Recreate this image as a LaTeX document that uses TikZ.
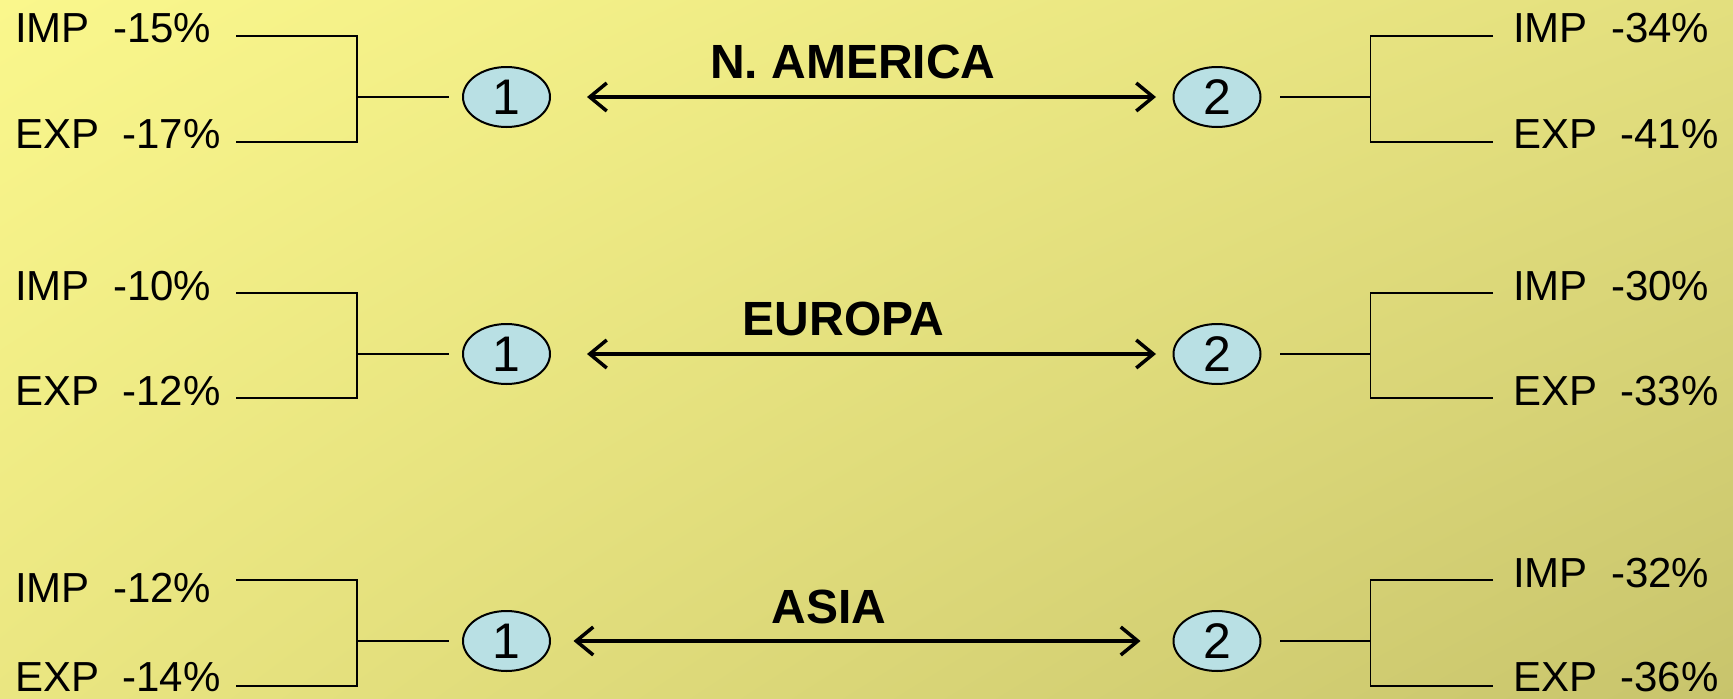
\documentclass[tikz,border=0pt]{standalone}
\usepackage{fontspec}
\setmainfont{Liberation Sans}
\usetikzlibrary{arrows.meta,shapes.geometric,shadings}
\definecolor{bgUL}{HTML}{FAF78C}
\definecolor{bgUR}{HTML}{E3DF7E}
\definecolor{bgLL}{HTML}{EAE681}
\definecolor{bgLR}{HTML}{C8C46C}
\definecolor{numfill}{HTML}{B9E0E4}
\begin{document}
\begin{tikzpicture}[x=1pt,y=-1pt,
  lbl/.style={anchor=base west,inner sep=0pt,font=\fontsize{42}{50}\selectfont},
  numnode/.style={ellipse,draw=black,line width=2pt,fill=numfill,minimum width=87pt,minimum height=60pt,inner sep=0pt,font=\fontsize{50}{54}\selectfont},
  ttl/.style={anchor=base,inner sep=0pt,font=\fontsize{48}{54}\selectfont\bfseries},
  brk/.style={line width=1.5pt},
  biarrow/.style={line width=3.5pt,{Straight Barb[length=17pt,width=28pt]}-{Straight Barb[length=17pt,width=28pt]}}
]
\shade[upper left=bgUL,upper right=bgUR,lower left=bgLL,lower right=bgLR] (0,0) rectangle (1733,699);
\useasboundingbox (0,0) rectangle (1733,699);

% ---------- Row 1: N. AMERICA ----------
\node[lbl] (l1i) at (15,42) {IMP\ \ -15\%};
\node[lbl] (l1e) at (15,148) {EXP\ \ -17\%};
\node[lbl] (r1i) at (1513,42) {IMP\ \ -34\%};
\node[lbl] (r1e) at (1513,148) {EXP\ \ -41\%};
\node[numnode] (a1) at (506.5,97) {1};
\node[numnode] (b1) at (1217,97) {2};
\node[ttl] (t1) at (853,78.3) {N. AMERICA};
\coordinate (l1it) at (236,36);
\coordinate (l1et) at (236,142);
\coordinate (l1m) at (357,97);
\coordinate (r1it) at (1493,36);
\coordinate (r1et) at (1493,142);
\coordinate (r1m) at (1370.5,97);
\draw[brk] (l1it) -| (l1m) |- (l1et);
\draw[brk] (l1m) -- ([xshift=-13pt]a1.west);
\draw[brk] (r1it) -| (r1m) |- (r1et);
\draw[brk] (r1m) -- ([xshift=18.5pt]b1.east);
\draw[biarrow] ([xshift=36pt]a1.east) -- ([xshift=-16.5pt]b1.west);

% ---------- Row 2: EUROPA ----------
\node[lbl] (l2i) at (15,300.7) {IMP\ \ -10\%};
\node[lbl] (l2e) at (15,405.7) {EXP\ \ -12\%};
\node[lbl] (r2i) at (1513,300.7) {IMP\ \ -30\%};
\node[lbl] (r2e) at (1513,405.7) {EXP\ \ -33\%};
\node[numnode] (a2) at (506.5,354) {1};
\node[numnode] (b2) at (1217,354) {2};
\node[ttl] (t2) at (843.7,335) {EUROPA};
\coordinate (l2it) at (236,293);
\coordinate (l2et) at (236,398);
\coordinate (l2m) at (357,354);
\coordinate (r2it) at (1493,293);
\coordinate (r2et) at (1493,398);
\coordinate (r2m) at (1370.5,354);
\draw[brk] (l2it) -| (l2m) |- (l2et);
\draw[brk] (l2m) -- ([xshift=-13pt]a2.west);
\draw[brk] (r2it) -| (r2m) |- (r2et);
\draw[brk] (r2m) -- ([xshift=18.5pt]b2.east);
\draw[biarrow] ([xshift=36pt]a2.east) -- ([xshift=-16.5pt]b2.west);

% ---------- Row 3: ASIA ----------
\node[lbl] (l3i) at (15,602) {IMP\ \ -12\%};
\node[lbl] (l3e) at (15,691) {EXP\ \ -14\%};
\node[lbl] (r3i) at (1513,587) {IMP\ \ -32\%};
\node[lbl] (r3e) at (1513,691) {EXP\ \ -36\%};
\node[numnode] (a3) at (506.5,641) {1};
\node[numnode] (b3) at (1217,641) {2};
\node[ttl] (t3) at (828.7,623.3) {ASIA};
\coordinate (l3it) at (236,580);
\coordinate (l3et) at (236,686);
\coordinate (l3m) at (357,641);
\coordinate (r3it) at (1493,580);
\coordinate (r3et) at (1493,686);
\coordinate (r3m) at (1370.5,641);
\draw[brk] (l3it) -| (l3m) |- (l3et);
\draw[brk] (l3m) -- ([xshift=-13pt]a3.west);
\draw[brk] (r3it) -| (r3m) |- (r3et);
\draw[brk] (r3m) -- ([xshift=18.5pt]b3.east);
\draw[biarrow] ([xshift=22.5pt]a3.east) -- ([xshift=-32pt]b3.west);
\end{tikzpicture}
\end{document}
